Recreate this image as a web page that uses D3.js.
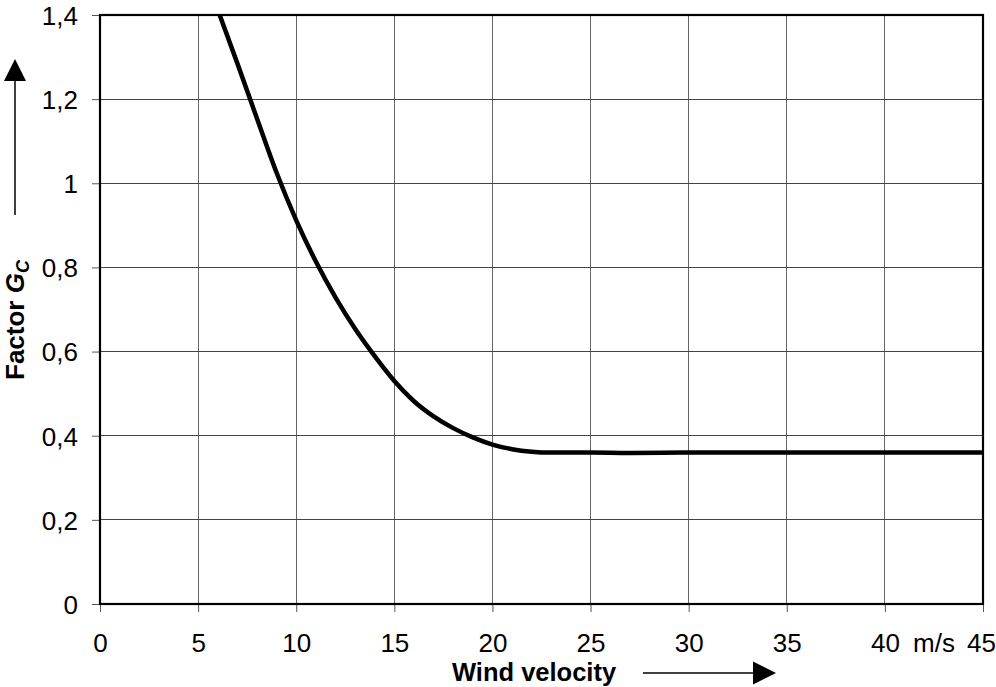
<!DOCTYPE html>
<html><head><meta charset="utf-8">
<script src="https://cdn.jsdelivr.net/npm/d3@7"></script>
<style>html,body{margin:0;padding:0;background:#fff;}svg{display:block;font-family:"Liberation Sans",Arial,sans-serif;}</style>
</head><body>
<script>
const velocity = [6.1, 7, 8, 9, 10, 11, 12, 13, 14, 15, 16, 17, 18, 19, 20, 21, 22, 23, 25, 27, 30, 35, 40, 45];
const factorGc = [1.40, 1.285, 1.154, 1.025, 0.912, 0.814, 0.729, 0.654, 0.589, 0.530, 0.482, 0.446, 0.418, 0.396, 0.379, 0.368, 0.362, 0.360, 0.360, 0.359, 0.360, 0.360, 0.360, 0.360];
const xTicks = [0, 5, 10, 15, 20, 25, 30, 35, 40, 45];
const yTicks = [0, 0.2, 0.4, 0.6, 0.8, 1.0, 1.2, 1.4];

const W = 996, H = 687;
const svg = d3.select("body").append("svg").attr("width", W).attr("height", H);
const x = d3.scaleLinear().domain([0, 45]).range([100, 983]);
const y = d3.scaleLinear().domain([0, 1.4]).range([604, 15]);
const fmt = d => d === 0 ? "0" : String(d).replace(".", ",");

// grid
svg.append("g").selectAll("line").data(xTicks.slice(1, -1)).join("line")
  .attr("x1", d => x(d)).attr("x2", d => x(d)).attr("y1", y(0)).attr("y2", y(1.4))
  .attr("stroke", "#666").attr("stroke-width", 1).attr("shape-rendering", "crispEdges");
svg.append("g").selectAll("line").data(yTicks.slice(1, -1)).join("line")
  .attr("x1", x(0)).attr("x2", x(45)).attr("y1", d => y(d)).attr("y2", d => y(d))
  .attr("stroke", "#444").attr("stroke-width", 1).attr("shape-rendering", "crispEdges");

// axes with ticks
const xAxis = svg.append("g").attr("transform", `translate(0,${y(0)})`)
  .call(d3.axisBottom(x).tickValues(xTicks).tickFormat(fmt).tickSize(8));
const yAxis = svg.append("g").attr("transform", `translate(${x(0)},0)`)
  .call(d3.axisLeft(y).tickValues(yTicks).tickFormat(fmt).tickSize(8));
[xAxis, yAxis].forEach(g => {
  g.select(".domain").remove();
  g.selectAll(".tick line").attr("stroke", "#555");
  g.selectAll("text").attr("font-size", 26).attr("fill", "#000")
    .attr("font-family", "'Liberation Sans', Arial, sans-serif");
});
xAxis.selectAll("text").attr("dy", 0).attr("y", 48);
xAxis.selectAll(".tick:last-of-type text").attr("x", -2);
yAxis.selectAll("text").attr("x", -22).attr("dy", "0.36em");

// frame
svg.append("rect").attr("x", x(0)).attr("y", y(1.4)).attr("width", x(45) - x(0)).attr("height", y(0) - y(1.4))
  .attr("fill", "none").attr("stroke", "#000").attr("stroke-width", 2.2);

// curve
svg.append("defs").append("clipPath").attr("id", "clip").append("rect")
  .attr("x", x(0)).attr("y", y(1.4)).attr("width", x(45) - x(0)).attr("height", y(0) - y(1.4));
const pts = velocity.map((v, i) => [v, factorGc[i]]);
svg.append("path").datum(pts).attr("clip-path", "url(#clip)")
  .attr("d", d3.line().x(d => x(d[0])).y(d => y(d[1])).curve(d3.curveMonotoneX))
  .attr("fill", "none").attr("stroke", "#000").attr("stroke-width", 4.5).attr("stroke-linejoin", "round");

// unit label
svg.append("text").attr("x", 913).attr("y", 652).attr("font-size", 26).text("m/s");

// x title and arrow
svg.append("text").attr("x", 452).attr("y", 681).attr("font-size", 25.5).attr("font-weight", "bold").text("Wind velocity");
svg.append("line").attr("x1", 643).attr("x2", 755).attr("y1", 673).attr("y2", 673).attr("stroke", "#000").attr("stroke-width", 1.5);
svg.append("path").attr("d", "M753,661.5 L776,673 L753,684.5 Z").attr("fill", "#000");

// y title and arrow
const yt = svg.append("text").attr("transform", "translate(24,380) rotate(-90)")
  .attr("font-size", 26).attr("font-weight", "bold");
yt.append("tspan").text("Factor ");
yt.append("tspan").attr("font-style", "italic").text("G");
yt.append("tspan").attr("font-style", "italic").attr("font-size", 18).attr("dy", 5).text("C");
svg.append("line").attr("x1", 15).attr("x2", 15).attr("y1", 215).attr("y2", 80).attr("stroke", "#000").attr("stroke-width", 1.5);
svg.append("path").attr("d", "M4,81 L15,59 L26,81 Z").attr("fill", "#000");
</script>
</body></html>
